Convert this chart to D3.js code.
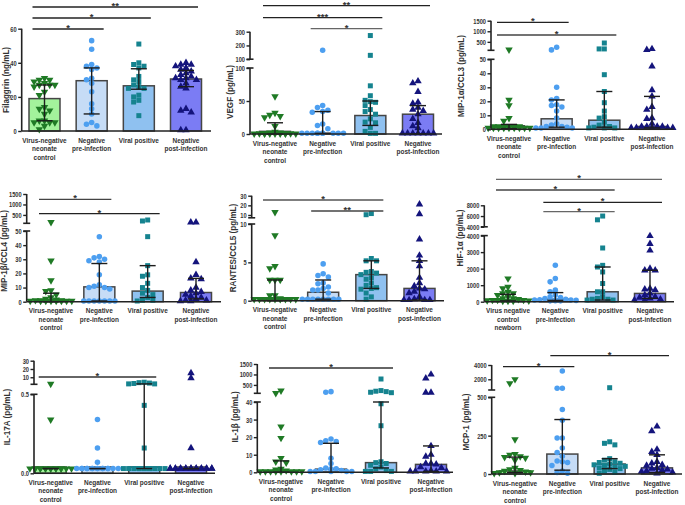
<!DOCTYPE html>
<html><head><meta charset="utf-8">
<script src="https://cdn.jsdelivr.net/npm/d3@7"></script>
<style>
html,body{margin:0;padding:0;background:#fff;overflow:hidden}
svg{display:block}
text{font-family:"Liberation Sans",Arial,sans-serif;font-weight:bold;fill:#333}
</style>
</head><body><svg id="c" width="685" height="505"></svg>
<script>
// ---------- categories ----------
const catsA = ["Virus-negative|neonate|control","Negative|pre-infection","Viral positive","Negative|post-infection"];
const catsHIF = ["Virus negative|control|newborn","Negative|pre-infection","Viral positive","Negative|post-infection"];

// ---------- data: points per group, stats = [median, q1, q3] ----------
const filaggrinPts = [
  [31,30,30,29,28,27,27,27,26,23,21,14,13,12,10,6,6,5,5,5,3,1],
  [53,48,39,38,37,36,31,30,28,23,16,13,10,5,4,3],
  [51,40,39,38,37,32,30,29,27,26,25,25,21,20,18,17,9],
  [40,39,39,38,37,36,35,34,33,32,31,31,30,30,28,26,25,13,12,11,0.5,0.5]];
const filaggrinStats = [[19,6,27],[29.5,10,37],[26.5,24.5,36.5],[30.5,26,35.5]];
const filaggrinTicks = [[0,20,40,60]];
const filaggrinSig = [[0,3,"**"],[0,2,"*"],[0,1,"*"]];

const vegfPts = [
  [57,32,29,27,25,12,3,2,2,1,1,1,1,0.5,0.5,0.5,0.5,0.5,0.5,0.5],
  [165,43,40,36,34,33,15,13,8,1,1,1,1,1,1,1,1,1,1],
  [272,128,73,58,51,49,48,43,37,34,30,23,18,17,10,4,1,1],
  [80,77,64,48,46,40,37,35,30,23,17,12,9,1,1,1,1,1,1,1]];
const vegfStats = [[4,0,17],[1,1,34],[28,13,50],[30,0,43]];
const vegfTicks = [[0,50,100],[100,200,300]];
const vegfSig = [[0,3,"**"],[0,2,"***"],[1,2,"*"]];

const mip1aPts = [
  [133,21,17,8,6,2,2,2,2,2,2,1,1,1,1,1,1,1,1,1],
  [240,120,30,22,21,17.5,17,16,13,8,4,3,2,2,1.5,1,1,1],
  [445,165,165,39,27,19,13,9,8,5,3,2,1.5,1,1,1],
  [165,120,45,28,23.5,16,14,8,7.5,4,2,2,2,2,1,1,1,1,1]];
const mip1aStats = [[2.5,0.5,3.5],[7.5,1.5,21],[6.5,1.5,27],[2,1,23.5]];
const mip1aTicks = [[0,10,20,30,40,50],[500,1000,1500]];
const mip1aSig = [[0,1,"*"],[0,2,"*"]];

const mip1bPts = [
  [150,29,15,8,7.5,5,3,2,1.5,1,1,1,0.5,0.5,0.5,0.5,0.5,0.5,0.5,0.5],
  [46,32,31,30,29,28,19,12,11,10,10,9,0.5,0.5,0.5,0.5,0.5,0.5,0.5],
  [258,210,46,25.5,19,18,13,10,8,6,5,3,1,1,0.5],
  [150,150,28,19,16.5,16,10,8,7,6,5,4,3,2,1,1,0.5,0.5]];
const mip1bStats = [[1,0,6],[10.5,0.5,27],[7.5,3,25.5],[6.5,2,16.5]];
const mip1bTicks = [[0,10,20,30,40,50],[500,1000,1500]];
const mip1bSig = [[0,1,"*"],[0,2,"*"]];

const rantesPts = [
  [13,8.5,4.5,4.2,2.7,2.7,2.7,0.7,0.7,0.3,0.2,0.2,0.2,0.2,0.2,0.2,0.2,0.2,0.2],
  [4.8,3.5,3.3,3.1,2.3,2.2,1.8,1.6,1.4,1.4,1.0,0.2,0.2,0.2,0.2,0.2,0.2,0.2,0.2],
  [11.5,10.3,5.5,5.2,5.2,3.8,3.7,3.6,3.4,3.0,2.8,2.3,2.0,1.7,1.6,1.5,1.0,0.5,0.2],
  [21,11,8.0,5.9,5.2,4.5,3.0,2.3,1.9,1.6,1.5,1.2,1.0,0.5,0.2,0.1,0.1,0.1,0.1]];
const rantesStats = [[0.2,0,2.7],[1.1,0.2,2.7],[3.4,1.6,5.2],[1.6,0.1,5.2]];
const rantesTicks = [[0,5,10],[10,20,30]];
const rantesSig = [[0,2,"*"],[1,2,"**"]];

const hifPts = [
  [1400,900,800,600,500,500,400,300,200,200,150,100,100,100,80,60,50,50,50],
  [2200,1400,1200,700,600,400,300,250,200,150,120,100,100,100,80,60,50,50],
  [6000,5300,3250,2200,2100,1800,1100,600,600,300,200,150,150,100,100],
  [3980,3500,3100,2000,1900,1900,800,750,700,500,400,300,250,200,150,100,100]];
const hifStats = [[100,50,450],[150,80,550],[600,100,2100],[500,200,1900]];
const hifTicks = [[0,1000,2000,3000,4000],[4000,6000,8000]];
const hifSig = [[0,3,"*"],[0,2,"*"],[1,3,"*"],[1,2,"*"]];

const il17Pts = [
  [2,0.34,0.03,0.03,0.03,0.03,0.03,0.03,0.03,0.03,0.03,0.03,0.03,0.03,0.03,0.03,0.03],
  [0.34,0.16,0.07,0.03,0.03,0.03,0.03,0.03,0.03,0.03,0.03,0.03,0.03,0.03,0.03,0.03,0.03,0.03],
  [4,3.5,3,2.5,2,2,0.43,0.16,0.03,0.03,0.03,0.03,0.03,0.03,0.03,0.03,0.03,0.03,0.03,0.03],
  [15,9,0.16,0.03,0.03,0.03,0.03,0.03,0.03,0.03,0.03,0.03,0.03,0.03,0.03,0.03,0.03,0.03,0.03,0.03,0.03]];
const il17Stats = [[0.04,0.03,0.03],[0.04,0.03,0.03],[0.04,0.03,2],[0.04,0.03,0.03]];
const il17Ticks = [[0,0.5],[10,20,30]];
const il17Sig = [[0,2,"*"]];

const il1bPts = [
  [224,110,26,19.5,8,6,5.5,2,1.5,1,0.5,0.5,0.5,0.5,0.5,0.5,0.5,0.5],
  [180,150,19,18,17.5,17,8,5,2.5,2,2,1.5,1,0.5,0.5,0.5,0.5,0.5],
  [783,230,200,180,150,130,39,26.5,6,5.5,5,4,3,2,1,0.5,0.5,0.5],
  [1000,820,130,130,15,10,9,5,5,4.5,3,2.5,1,0.5,0.5,0.5,0.5,0.5]];
const il1bStats = [[0.7,0,6.5],[1.8,0,16.5],[5.5,2.5,40],[4.5,0.5,15]];
const il1bTicks = [[0,10,20,30,40],[500,1000,1500]];
const il1bSig = [[0,2,"*"]];

const mcpPts = [
  [2000,1440,225,130,125,115,110,105,90,40,30,25,20,15,10,10,5,5],
  [3160,740,740,420,350,235,235,170,140,115,85,80,75,55,20,10,5],
  [820,210,200,190,100,90,80,75,70,65,60,55,50,45,40,35,30,20,10,5],
  [310,280,160,145,125,80,70,60,55,40,35,30,25,20,15,10,5]];
const mcpStats = [[20,10,110],[130,25,355],[65,35,100],[40,10,125]];
const mcpTicks = [[0,250,500],[2000,4000]];
const mcpSig = [[0,1,"*"],[1,3,"*"]];

// ---------- styles ----------
const barFill = ["#a3f29c","#c6dcf6","#8fc1f0","#7b7cf4"];
const dotFill = ["#1f7a25","#4d9ff0","#15838f","#14147c"];
const shapes = ["down","circle","square","up"];
const CAT_FS = 7.2, CAT_SX = 0.9, TICK_SX = 0.75, YL_SX = 0.88;

// ---------- layout ----------
const panels = [
 {label:"Filaggrin (ng/mL)", pts:filaggrinPts, stats:filaggrinStats, ticks:filaggrinTicks, sig:filaggrinSig, cats:catsA,
  ax:21.7, xEnd:211, c:[44.5,186], seg:[{d:[0,60],r:[131,28.7]}], lx:7, ly:80, sigY:[7,18,29], sigCol:["#222","#222","#222"]},
 {label:"VEGF (pg/mL)", pts:vegfPts, stats:vegfStats, ticks:vegfTicks, sig:vegfSig, cats:catsA,
  ax:250, xEnd:442, c:[275,418], seg:[{d:[0,100],r:[134,68]},{d:[100,300],r:[59.2,31.7]}], lx:230.5, ly:92, sigY:[5.7,17.7,28.7], sigCol:["#222","#222","#666"]},
 {label:"MIP-1\u03b1/CCL3 (pg/mL)", pts:mip1aPts, stats:mip1aStats, ticks:mip1aTicks, sig:mip1aSig, cats:catsA,
  ax:491, xEnd:674, c:[509,652], seg:[{d:[0,50],r:[129.3,59.3]},{d:[100,1500],r:[50.3,20.7]}], lx:462, ly:76, sigY:[22.3,35], sigCol:["#222","#444"]},
 {label:"MIP-1\u03b2/CCL4 (pg/mL)", pts:mip1bPts, stats:mip1bStats, ticks:mip1bTicks, sig:mip1bSig, cats:catsA,
  ax:26.7, xEnd:221, c:[51,196], seg:[{d:[0,50],r:[301.7,231]},{d:[100,1500],r:[223.3,194]}], lx:5, ly:251, sigY:[199.3,213.7], sigCol:["#444","#222"]},
 {label:"RANTES/CCL5 (pg/mL)", pts:rantesPts, stats:rantesStats, ticks:rantesTicks, sig:rantesSig, cats:catsA,
  ax:251.7, xEnd:444, c:[275,419.5], seg:[{d:[0,10],r:[300.7,224]},{d:[10,30],r:[215,195.7]}], ext:2.8, lx:234, ly:248, sigY:[200,211], sigCol:["#555","#444"]},
 {label:"HIF-1\u03b1 (pg/mL)", pts:hifPts, stats:hifStats, ticks:hifTicks, sig:hifSig, cats:catsHIF,
  ax:484.3, xEnd:674, c:[508,650], seg:[{d:[0,4000],r:[301.7,235.6]},{d:[4000,8000],r:[226.8,205.3]}], lx:460.5, ly:238, sigY:[179.3,190,202.3,211.7], sigCol:["#666","#444","#222","#666"]},
 {label:"IL-17A (pg/mL)", pts:il17Pts, stats:il17Stats, ticks:il17Ticks, sig:il17Sig, cats:catsA, fmt0:".1f",
  ax:34, xEnd:215, c:[50.7,191], seg:[{d:[0,0.5],r:[473.3,394.3]},{d:[1.5,30],r:[384.3,360.7]}], lx:8, ly:417, sigY:[377], sigCol:["#333"]},
 {label:"IL-1\u03b2  (pg/mL)", pts:il1bPts, stats:il1bStats, ticks:il1bTicks, sig:il1bSig, cats:catsA,
  ax:257.3, xEnd:453, c:[281,431], seg:[{d:[0,40],r:[472.3,402]},{d:[100,1500],r:[393.3,364]}], lx:235.5, ly:417, sigY:[368], sigCol:["#333"]},
 {label:"MCP-1 (pg/mL)", pts:mcpPts, stats:mcpStats, ticks:mcpTicks, sig:mcpSig, cats:catsA,
  ax:491.7, xEnd:682, c:[515,657], seg:[{d:[0,500],r:[474,397.3]},{d:[500,4000],r:[390,365]}], lx:466.5, ly:422, sigY:[366.7,355.7], sigCol:["#222","#222"]}
];

const svg = d3.select("#c");
const symPath = {
  circle: d3.symbol().type(d3.symbolCircle).size(24)(),
  square: d3.symbol().type(d3.symbolSquare).size(25)(),
  up: d3.symbol().type(d3.symbolTriangle).size(24)(),
  down: d3.symbol().type(d3.symbolTriangle).size(24)()
};

// compress text horizontally via textLength (keeps real text)
function setFont(sel, size, k){
  sel.attr("font-size", size);
  sel.each(function(){
    const L = this.getComputedTextLength();
    if (L > 0) d3.select(this).attr("textLength", (L*k).toFixed(2)).attr("lengthAdjust", "spacingAndGlyphs");
  });
}

function makeY(p){
  const segs = p.seg.map(s => d3.scaleLinear().domain(s.d).range(s.r));
  const f = v => (segs.length > 1 && v > p.seg[0].d[1]) ? segs[1](v) : segs[0](v);
  f.segs = segs;
  return f;
}

function swarm(vals, y){
  const step = 5.2;
  const placed = [];
  const items = vals.map(v => ({v, py: y(v)})).sort((a,b) => a.py - b.py);
  const cands = [0];
  for (let k = 1; k <= 4; k++) { cands.push(-k*step, k*step); }
  items.forEach(o => {
    let best = 0, bestCost = Infinity;
    for (const dx of cands) {
      let cost = 0;
      for (const q of placed) {
        if (Math.abs(q.dx - dx) < step*0.95 && Math.abs(q.py - o.py) < step*0.95) cost++;
      }
      if (cost === 0) { best = dx; bestCost = 0; break; }
      if (cost < bestCost) { bestCost = cost; best = dx; }
    }
    o.dx = best;
    placed.push(o);
  });
  return items;
}

panels.forEach(p => {
  const g = svg.append("g");
  const y = makeY(p);
  const x = d3.scalePoint().domain(d3.range(4)).range(p.c);
  const y0 = p.seg[0].r[0];
  const bw = 31;

  // bars
  g.selectAll("rect.bar").data(p.stats).join("rect")
    .attr("x", (d,i) => x(i) - bw/2).attr("width", bw)
    .attr("y", d => y(d[0])).attr("height", d => y0 - y(d[0]))
    .attr("fill", (d,i) => barFill[i]).attr("stroke", "#454545").attr("stroke-width", 1.5);

  // points
  p.pts.forEach((vals, i) => {
    const items = swarm(vals, y);
    g.selectAll(null).data(items).join("path")
      .attr("d", symPath[shapes[i]])
      .attr("transform", d => `translate(${x(i) + d.dx},${d.py})` + (shapes[i] === "down" ? " rotate(180)" : ""))
      .attr("fill", dotFill[i]);
  });

  // error bars (median with IQR)
  p.stats.forEach((d, i) => {
    const cx = x(i), a = y(d[1]), b = y(d[2]);
    const eg = g.append("g").attr("stroke", "#1d1d1d").attr("stroke-width", 1.4);
    eg.append("line").attr("x1", cx).attr("x2", cx).attr("y1", a).attr("y2", b);
    [a, b].forEach(yy => eg.append("line").attr("x1", cx - 8).attr("x2", cx + 8).attr("y1", yy).attr("y2", yy));
  });

  // x axis
  g.append("line").attr("x1", p.ax).attr("x2", p.xEnd).attr("y1", y0).attr("y2", y0)
    .attr("stroke", "#222").attr("stroke-width", 1.6);

  // y axis segments
  y.segs.forEach((s, si) => {
    const fmt = (si === 0 && p.fmt0) ? d3.format(p.fmt0) : d3.format("d");
    const ag = g.append("g").attr("transform", `translate(${p.ax},0)`)
      .call(d3.axisLeft(s).tickValues(p.ticks[si]).tickSize(3.5).tickSizeOuter(0).tickPadding(1.5).tickFormat(fmt));
    ag.select(".domain").remove();
    ag.selectAll(".tick line").attr("stroke", "#222").attr("stroke-width", 1.4);
    ag.selectAll(".tick text").call(setFont, 7.6, TICK_SX);
    const r = s.range();
    const top = Math.min(r[0], r[1]);
    const bot = Math.max(r[0], r[1]) + (si === 1 ? (p.ext || 0) : 0);
    ag.append("line").attr("x1", 0).attr("x2", 0).attr("y1", top).attr("y2", bot)
      .attr("stroke", "#222").attr("stroke-width", 1.6);
    if (y.segs.length > 1) {
      const capY = si === 0 ? top : bot;
      ag.append("line").attr("x1", -3.5).attr("x2", 3.5).attr("y1", capY).attr("y2", capY)
        .attr("stroke", "#222").attr("stroke-width", 1.6);
    }
  });

  // category labels
  p.cats.forEach((c, i) => {
    const t = g.append("text").attr("text-anchor", "middle").attr("font-size", CAT_FS);
    c.split("|").forEach((ln, k) => {
      t.append("tspan").attr("x", x(i)).attr("y", y0 + 11.5 + k*8.6).text(ln);
    });
    t.selectAll("tspan").call(setFont, CAT_FS, CAT_SX);
  });

  // y label
  g.append("text").attr("transform", `translate(${p.lx},${p.ly}) rotate(-90)`)
    .attr("text-anchor", "middle").attr("dominant-baseline", "middle")
    .text(p.label).call(setFont, 9.2, YL_SX);

  // significance
  p.sig.forEach((s, k) => {
    const yy = p.sigY[k];
    const x1 = x(s[0]) - 12, x2 = x(s[1]) + 12;
    g.append("line").attr("x1", x1).attr("x2", x2).attr("y1", yy).attr("y2", yy)
      .attr("stroke", p.sigCol[k]).attr("stroke-width", 1.3);
    g.append("text").attr("x", (x1 + x2)/2).attr("y", yy + 2).attr("text-anchor", "middle")
      .attr("font-size", 9.5).text(s[2]);
  });
});
</script></body></html>
